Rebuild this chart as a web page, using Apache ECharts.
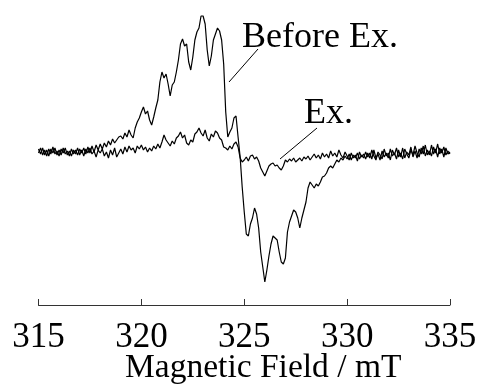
<!DOCTYPE html>
<html>
<head>
<meta charset="utf-8">
<script src="https://cdn.jsdelivr.net/npm/echarts@6/dist/echarts.min.js"></script>
<style>
  html, body { margin: 0; padding: 0; background: #fff; }
  #chart { width: 478px; height: 388px; }
</style>
</head>
<body>
<div id="chart"></div>
<script>
  // field sweep: 315.0 .. 335.0 mT, one reading every 0.1 mT
  var fieldStart = 315
  var fieldStep = 0.1
  var fieldTicks = [315, 320, 325, 330, 335]

  // signal before excitation (arb. units, baseline = 0)
  var beforeEx = [
    3, -2, 4, -3, 2, -4, 3, -1, 4, -3,
    2, -3, 4, -2, 1, -4, 3, -2, 2, -3,
    3, -1, 4, -2, 5, -1, 6, 0, 7, 2,
    8, 3, 9, 5, 11, 7, 13, 9, 12, 15,
    16, 13, 19, 15, 22, 17, 14, 24, 30, 34,
    40, 45, 38, 41, 32, 27, 35, 44, 52, 70,
    80, 74, 78, 68, 56, 67, 70, 80, 92, 108,
    113, 106, 108, 90, 82, 95, 112, 120, 124, 136,
    136, 128, 102, 86, 96, 112, 118, 124, 121, 112,
    88, 40, 15, 20, 24, 34, 36, 15, -5, -35,
    -60, -82, -84, -72, -66, -56, -62, -76, -100, -115,
    -130, -118, -104, -92, -84, -86, -88, -100, -110, -112,
    -106, -80, -70, -64, -58, -60, -66, -76, -66, -58,
    -50, -36, -30, -33, -36, -32, -34, -30, -25, -24,
    -21, -16, -14, -16, -12, -8, -10, -6, -8, -4,
    -7, -2, -8, -3, -6, -1, -7, -3, -6, 0,
    -5, -1, -7, 2, -6, -2, -8, 1, -5, -1,
    -6, 3, -4, -1, -7, 2, -5, 4, -6, 0,
    -3, 5, -5, 1, -6, 3, -2, 6, -4, 2,
    -3, 7, -2, 3, -5, 4, -1, 5, -3, 1,
    -2
  ]

  // signal under excitation
  var ex = [
    -1, 4, -3, 2, -4, 3, -2, 5, -2, 1,
    -4, 3, -1, 4, -3, 1, -4, 2, -2, 4,
    -3, 2, -4, 3, -1, 4, -2, 1, -5, 2,
    -1, 3, -4, 0, -6, 2, -3, 4, -5, -1,
    3, -2, 5, 0, 6, 2, 4, -1, 6, 3,
    7, 2, 5, 0, 4, 1, 6, 3, 8, 4,
    10, 17, 12, 9, 6, 11, 8, 14, 16, 20,
    14, 17, 9, 7, 12, 10, 18, 20, 24, 19,
    16, 22, 14, 11, 18, 15, 21, 19, 14, 12,
    5, 4, 2, 6, 3, 8, 10, 5, -6, -10,
    -8, -5, -9, -4, -3, -7, -5, -9, -16, -20,
    -24, -19, -14, -12, -11, -14, -13, -16, -18, -14,
    -8, -10, -7, -9, -6, -10, -8, -6, -9, -5,
    -7, -4, -8, -5, -2, -6, -3, -7, -1, -5,
    -2, -6, 1, -4, -1, -5, 2, -3, -6, 0,
    -4, -8, -1, -6, -3, -9, 0, -5, -2, -7,
    -1, -6, 2, -4, -8, 0, -3, -7, 3, -4,
    -1, -8, 2, -3, 4, -5, -1, -7, 3, -2,
    -6, 2, -3, 6, -1, -5, 4, -2, 7, -3,
    1, -4, 5, -1, 8, -2, 3, -5, 4, -2,
    0
  ]

  function pairs(vals) {
    return vals.map(function (v, i) {
      return [+(fieldStart + i * fieldStep).toFixed(1), v]
    })
  }

  var font = '"Liberation Serif", "Times New Roman", serif'

  var chart = echarts.init(document.getElementById('chart'))
  chart.setOption({
    animation: false,
    backgroundColor: '#fff',
    grid: { left: 38.5, right: 28, top: 5, bottom: 83, outerBoundsMode: 'none', containLabel: false },
    xAxis: {
      type: 'value',
      min: 315,
      max: 335,
      interval: 5,
      name: 'Magnetic Field / mT',
      nameLocation: 'middle',
      nameGap: 46,
      nameMoveOverlap: false,
      nameTextStyle: { fontFamily: font, fontSize: 33.5, color: '#000', padding: [0, 0, 0, 38] },
      axisLine: { onZero: false, lineStyle: { color: '#333', width: 1 } },
      axisTick: { inside: true, length: 6, lineStyle: { color: '#333' } },
      axisLabel: {
        fontFamily: font, fontSize: 35, color: '#000', margin: 15,
        formatter: function (v) { return fieldTicks.indexOf(v) > -1 ? String(v) : '' }
      },
      splitLine: { show: false }
    },
    yAxis: { type: 'value', show: false, min: -153, max: 147 },
    series: [
      {
        name: 'Before Ex.', type: 'line', data: pairs(beforeEx), showSymbol: false,
        lineStyle: { color: '#000', width: 1.2 }
      },
      {
        name: 'Ex.', type: 'line', data: pairs(ex), showSymbol: false,
        lineStyle: { color: '#000', width: 1.2 }
      }
    ],
    graphic: [
      { type: 'text', left: 242, top: 20, style: { text: 'Before Ex.', font: '36px ' + font, fill: '#000' } },
      { type: 'text', left: 304, top: 96, style: { text: 'Ex.', font: '36px ' + font, fill: '#000' } },
      { type: 'line', shape: { x1: 258, y1: 49, x2: 229, y2: 82 }, style: { stroke: '#000', lineWidth: 1 } },
      { type: 'line', shape: { x1: 317, y1: 128, x2: 280, y2: 159 }, style: { stroke: '#000', lineWidth: 1 } }
    ]
  })
</script>
</body>
</html>
